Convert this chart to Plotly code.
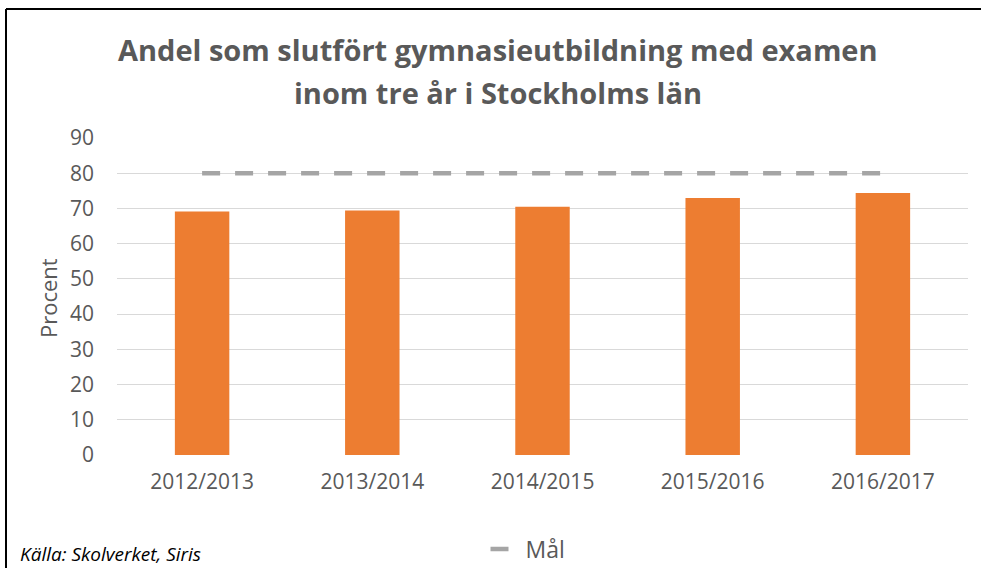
import plotly.graph_objects as go

# data
years = ["2012/2013", "2013/2014", "2014/2015", "2015/2016", "2016/2017"]
andel = [69.1, 69.4, 70.5, 73.0, 74.4]
mal = [80, 80, 80, 80, 80]
y_ticks = [0, 10, 20, 30, 40, 50, 60, 70, 80, 90]

TITLE_1 = "Andel som slutfört gymnasieutbildning med examen"
TITLE_2 = "inom tre år i Stockholms län"
SOURCE = "Källa: Skolverket, Siris"

W, H = 981, 568
L, R, T, B = 117, 13, 138, 113
FONT = "Open Sans"
GREY = "#595959"


def px_x(px):
    return (px - L) / (W - L - R)


def px_y(py):
    return (H - B - py) / (H - T - B)


fig = go.Figure()

fig.add_trace(go.Bar(
    x=years, y=andel,
    name="Andel",
    marker=dict(color="#ED7D31", line=dict(width=0)),
    showlegend=False,
))

fig.add_trace(go.Scatter(
    x=years, y=mal,
    mode="lines",
    name="Mål",
    line=dict(color="#A5A5A5", width=4.5, dash="18px,15px"),
))

annotations = [
    dict(text=f"<b>{TITLE_1}</b>", x=px_x(498), y=px_y(50), xref="paper", yref="paper",
         xanchor="center", yanchor="middle", showarrow=False,
         font=dict(family=FONT, size=29, color=GREY)),
    dict(text=f"<b>{TITLE_2}</b>", x=px_x(498), y=px_y(92), xref="paper", yref="paper",
         xanchor="center", yanchor="middle", showarrow=False,
         font=dict(family=FONT, size=29, color=GREY)),
    dict(text="Procent", x=px_x(48), y=px_y(298), xref="paper", yref="paper",
         xanchor="center", yanchor="middle", textangle=-90, showarrow=False,
         font=dict(family=FONT, size=22, color=GREY)),
    dict(text=f"<i>{SOURCE}</i>", x=px_x(18), y=px_y(554), xref="paper", yref="paper",
         xanchor="left", yanchor="middle", showarrow=False,
         font=dict(family=FONT, size=19, color="#000000")),
]

# ram runt bilden (topp + vänster)
shapes = [
    dict(type="line", xref="paper", yref="paper", x0=px_x(6), x1=px_x(981), y0=px_y(9), y1=px_y(9),
         line=dict(color="#000000", width=2)),
    dict(type="line", xref="paper", yref="paper", x0=px_x(6), x1=px_x(6), y0=px_y(9), y1=px_y(568),
         line=dict(color="#000000", width=2)),
]

fig.update_layout(
    width=W, height=H,
    margin=dict(l=L, r=R, t=T, b=B, autoexpand=False),
    paper_bgcolor="white",
    plot_bgcolor="white",
    font=dict(family=FONT, color=GREY, size=21),
    bargap=0.68,
    annotations=annotations,
    shapes=shapes,
    showlegend=True,
    legend=dict(
        orientation="h", x=px_x(528), y=px_y(549), xanchor="center", yanchor="middle",
        font=dict(family=FONT, size=23, color=GREY),
        bgcolor="rgba(0,0,0,0)",
    ),
    xaxis=dict(
        showgrid=False, showline=False, zeroline=False,
        ticks="", ticklabelstandoff=12,
        tickfont=dict(family=FONT, size=21, color=GREY),
    ),
    yaxis=dict(
        range=[0, 90], tickvals=y_ticks,
        showgrid=True, gridcolor="#D9D9D9", gridwidth=1,
        showline=False, zeroline=False,
        ticks="", ticklabelstandoff=22,
        tickfont=dict(family=FONT, size=21, color=GREY),
    ),
)

fig.write_html(
    "out.html",
    config={"displayModeBar": False},
    post_script="document.body.style.margin='0px';",
)
